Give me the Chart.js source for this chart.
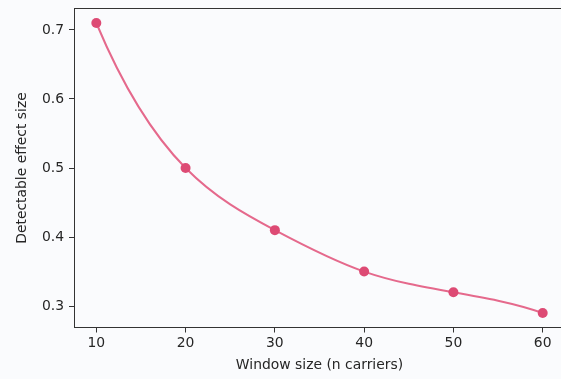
<!DOCTYPE html>
<html>
<head>
<meta charset="utf-8">
<script src="https://cdn.jsdelivr.net/npm/chart.js@4.4.0/dist/chart.umd.min.js"></script>
<style>
  html, body { margin: 0; padding: 0; background: #fafbfd; overflow: hidden; }
  #wrap { position: relative; width: 570px; height: 379px; }
</style>
</head>
<body>
<div id="wrap"><canvas id="c" width="570" height="379"></canvas></div>
<script>
// Window sizes (number of carriers) and the smallest detectable effect for each
const windowSizes = [10, 20, 30, 40, 50, 60];
const effectSizes = [0.71, 0.50, 0.41, 0.35, 0.32, 0.29];
const xTicks = [10, 20, 30, 40, 50, 60];
const yTicks = [0.3, 0.4, 0.5, 0.6, 0.7];

const ink = '#262626';
const spine = '#333333';
const font = { family: 'DejaVu Sans', size: 13.9 };

// Knot slopes of a not-a-knot cubic spline through (xs, ys)
function splineSlopes(xs, ys) {
  const n = xs.length;
  const h = [];
  for (let i = 0; i < n - 1; i++) h.push(xs[i + 1] - xs[i]);
  const A = Array.from({ length: n }, () => new Array(n).fill(0));
  const b = new Array(n).fill(0);
  A[0][0] = h[1]; A[0][1] = -(h[0] + h[1]); A[0][2] = h[0];
  for (let i = 1; i < n - 1; i++) {
    A[i][i - 1] = h[i - 1];
    A[i][i] = 2 * (h[i - 1] + h[i]);
    A[i][i + 1] = h[i];
    b[i] = 6 * ((ys[i + 1] - ys[i]) / h[i] - (ys[i] - ys[i - 1]) / h[i - 1]);
  }
  const k = n - 1;
  A[k][k - 2] = h[k - 1]; A[k][k - 1] = -(h[k - 2] + h[k - 1]); A[k][k] = h[k - 2];
  // Gaussian elimination with partial pivoting
  for (let c = 0; c < n; c++) {
    let p = c;
    for (let r = c + 1; r < n; r++) if (Math.abs(A[r][c]) > Math.abs(A[p][c])) p = r;
    [A[c], A[p]] = [A[p], A[c]]; [b[c], b[p]] = [b[p], b[c]];
    for (let r = c + 1; r < n; r++) {
      const f = A[r][c] / A[c][c];
      for (let j = c; j < n; j++) A[r][j] -= f * A[c][j];
      b[r] -= f * b[c];
    }
  }
  const M = new Array(n).fill(0);
  for (let r = n - 1; r >= 0; r--) {
    let s = b[r];
    for (let j = r + 1; j < n; j++) s -= A[r][j] * M[j];
    M[r] = s / A[r][r];
  }
  const m = [];
  for (let i = 0; i < n - 1; i++) {
    m.push((ys[i + 1] - ys[i]) / h[i] - h[i] * (2 * M[i] + M[i + 1]) / 6);
  }
  m.push((ys[k] - ys[k - 1]) / h[k - 1] + h[k - 1] * (M[k - 1] + 2 * M[k]) / 6);
  return m;
}

// Sets the line's bezier handles from the spline slopes so the curve is a smooth cubic spline
const smoothSpline = {
  id: 'smoothSpline',
  beforeDatasetDraw(chart, args) {
    const meta = args.meta;
    const xs = chart.scales.x, ys = chart.scales.y;
    meta.dataset.updateControlPoints(chart.chartArea, 'x');
    const slopes = splineSlopes(windowSizes, effectSizes);
    meta.data.forEach((pt, i) => {
      const x = windowSizes[i], y = effectSizes[i], m = slopes[i];
      const hb = i > 0 ? (x - windowSizes[i - 1]) / 3 : 0;
      const hf = i < windowSizes.length - 1 ? (windowSizes[i + 1] - x) / 3 : 0;
      pt.cp1x = xs.getPixelForValue(x - hb);
      pt.cp1y = ys.getPixelForValue(y - m * hb);
      pt.cp2x = xs.getPixelForValue(x + hf);
      pt.cp2y = ys.getPixelForValue(y + m * hf);
    });
  }
};

// Draws the top/right frame lines of the plot area
const frame = {
  id: 'frame',
  afterDatasetsDraw(chart) {
    const { ctx, chartArea: a } = chart;
    const top = Math.floor(a.top) + 0.5;
    ctx.save();
    ctx.strokeStyle = spine;
    ctx.lineWidth = 1;
    ctx.beginPath();
    ctx.moveTo(a.left, top);
    ctx.lineTo(a.right, top);
    ctx.lineTo(a.right, a.bottom);
    ctx.stroke();
    ctx.restore();
  }
};

new Chart(document.getElementById('c'), {
  type: 'line',
  data: {
    datasets: [{
      data: windowSizes.map((x, i) => ({ x, y: effectSizes[i] })),
      borderColor: '#e5698c',
      borderWidth: 2,
      tension: 0.4,
      pointRadius: 5,
      pointBackgroundColor: '#dd4a74',
      pointBorderColor: '#dd4a74',
      pointBorderWidth: 0,
      clip: false
    }]
  },
  options: {
    responsive: false,
    animation: false,
    layout: { padding: { top: 8.5, right: 5, left: 0, bottom: 0 } },
    plugins: { legend: { display: false }, tooltip: { enabled: false } },
    scales: {
      x: {
        type: 'linear',
        min: 7.5,
        max: 62.5,
        afterBuildTicks(s) { s.ticks = xTicks.map(v => ({ value: v })); },
        afterFit(s) { s.height = 51.5; s.paddingLeft = 0; s.paddingRight = 0; },
        ticks: { color: ink, font, padding: 3, maxRotation: 0 },
        grid: { drawOnChartArea: false, drawTicks: true, tickLength: 5, tickColor: spine, tickWidth: 1 },
        border: { display: true, color: spine, width: 1 },
        title: {
          display: true,
          text: 'Window size (n carriers)',
          color: ink,
          font,
          padding: { top: 0, bottom: 5.5 }
        }
      },
      y: {
        type: 'linear',
        min: 0.269,
        max: 0.731,
        afterBuildTicks(s) { s.ticks = yTicks.map(v => ({ value: v })); },
        afterFit(s) { s.width = 74; s.paddingTop = 0; s.paddingBottom = 0; },
        ticks: { color: ink, font, padding: 5, callback: v => v.toFixed(1) },
        grid: { drawOnChartArea: false, drawTicks: true, tickLength: 5, tickColor: spine, tickWidth: 1 },
        border: { display: true, color: spine, width: 1 },
        title: {
          display: true,
          text: 'Detectable effect size',
          color: ink,
          font,
          padding: { top: 14.5, bottom: 0 }
        }
      }
    }
  },
  plugins: [smoothSpline, frame]
});
</script>
</body>
</html>
